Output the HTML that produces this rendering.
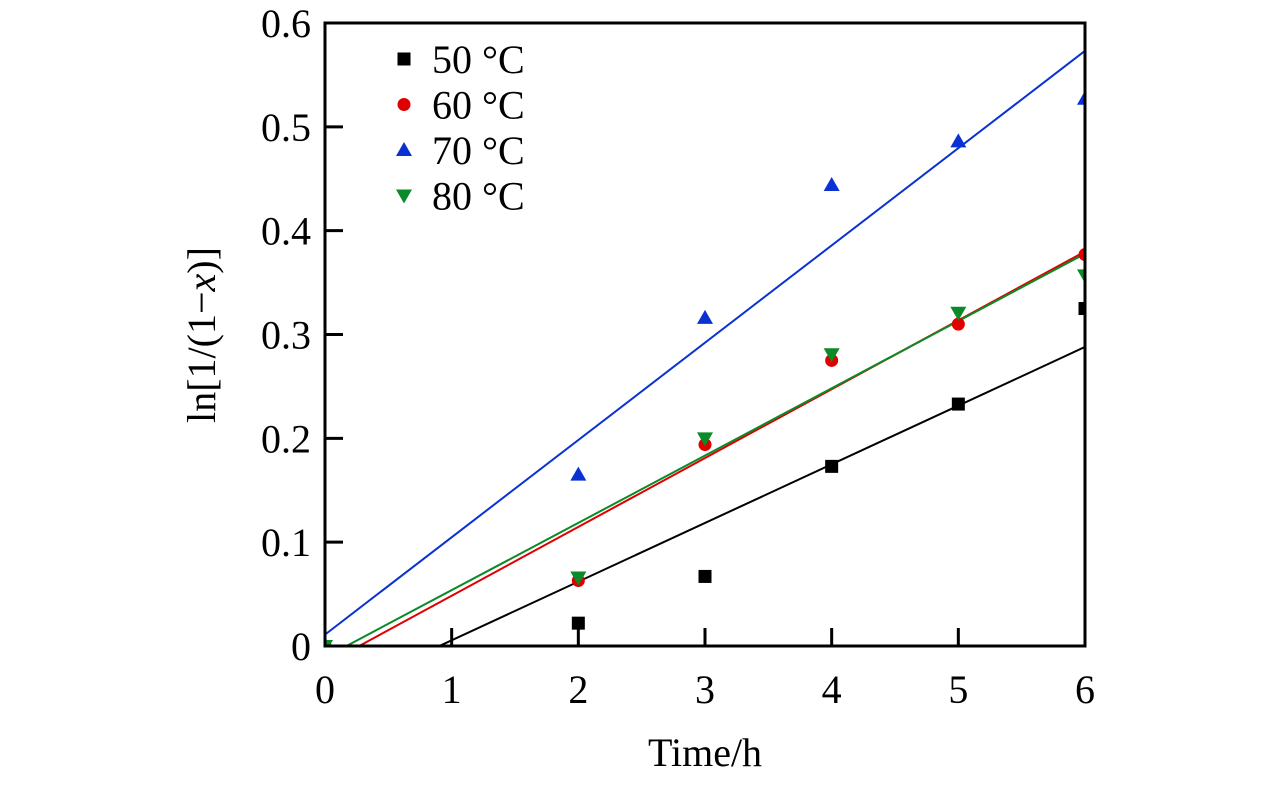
<!DOCTYPE html>
<html><head><meta charset="utf-8"><style>
body{margin:0;background:#fff}
svg{display:block;font-family:"Liberation Serif",serif}
</style></head><body>
<svg id="c" width="1276" height="787"></svg>
<script>
const xTicks=[0,1,2,3,4,5,6];
const yTicks=[0,0.1,0.2,0.3,0.4,0.5,0.6];
const yTickLabels=["0","0.1","0.2","0.3","0.4","0.5","0.6"];
const times=[0,2,3,4,5,6];
const s50=[null,0.022,0.067,0.173,0.233,0.325];
const s60=[0,0.063,0.194,0.275,0.310,0.377];
const s70=[null,0.165,0.316,0.444,0.486,0.527];
const s80=[0,0.066,0.200,0.281,0.321,0.357];
const fitSlope=[0.0565,0.0663,0.0937,0.0648];
const fitIntercept=[-0.051,-0.0179,0.011,-0.011];
const names=["50 °C","60 °C","70 °C","80 °C"];
const colors=["#000","#e00000","#0a32d2","#0a8a28"];
const shapes=["square","circle","up","down"];
const series=[s50,s60,s70,s80];

const L=325,R=1085,T=23,B=646;
const X=v=>L+(v-0)/6*(R-L);
const Y=v=>B-(v-0)/0.6*(B-T);
const svg=document.getElementById('c');
const NS="http://www.w3.org/2000/svg";
function mk(t,a,p){const e=document.createElementNS(NS,t);for(const k in a)e.setAttribute(k,a[k]);(p||svg).appendChild(e);return e;}
const defs=mk('defs',{});
const cp=mk('clipPath',{id:'clip'},defs);
mk('rect',{x:L,y:T,width:R-L,height:B-T},cp);
const g=mk('g',{'clip-path':'url(#clip)'});


function marker(shape,cx,cy,col,parent){
  let e;
  if(shape==='square')e=mk('rect',{x:cx-6.5,y:cy-6.5,width:13,height:13,fill:col},parent);
  else if(shape==='circle')e=mk('circle',{cx:cx,cy:cy,r:6.5,fill:col},parent);
  else if(shape==='up')e=mk('polygon',{points:`${cx},${cy-8} ${cx-8},${cy+6} ${cx+8},${cy+6}`,fill:col},parent);
  else e=mk('polygon',{points:`${cx},${cy+8} ${cx-8},${cy-6} ${cx+8},${cy-6}`,fill:col},parent);
  return e;
}
for(let i=0;i<4;i++){
  const l=mk('line',{x1:X(0),y1:Y(fitIntercept[i]),x2:X(6),y2:Y(fitIntercept[i]+fitSlope[i]*6),stroke:colors[i],'stroke-width':2},g);
  
  
}
for(let i=0;i<4;i++){
  series[i].forEach((v,j)=>{
    if(v===null)return;
    const m=marker(shapes[i],X(times[j]),Y(v),colors[i],g);
    
    
  });
}
const fr=mk('rect',{x:L,y:T,width:R-L,height:B-T,fill:'none',stroke:'#000','stroke-width':3});


xTicks.forEach(v=>{
  const t=mk('line',{x1:X(v),y1:B,x2:X(v),y2:B-18,stroke:'#000','stroke-width':3});
  
  
  const tx=mk('text',{x:X(v),y:B+57,'text-anchor':'middle','font-size':40});
  tx.textContent=v;
  
  
});
yTicks.forEach((v,i)=>{
  const t=mk('line',{x1:L,y1:Y(v),x2:L+18,y2:Y(v),stroke:'#000','stroke-width':3});
  
  
  const tx=mk('text',{x:L-14,y:Y(v)+14,'text-anchor':'end','font-size':40});
  tx.textContent=yTickLabels[i];
  
  
});
const xt=mk('text',{x:705,y:766,'text-anchor':'middle','font-size':40});
xt.textContent='Time/h';


const yt=mk('text',{x:0,y:0,'text-anchor':'middle','font-size':40,transform:'translate(215,335) rotate(-90)'});
yt.innerHTML='ln[1/(1−<tspan font-style="italic">x</tspan>)]';


for(let i=0;i<4;i++){
  const ly=59+i*45.5;
  const m=marker(shapes[i],404,ly,colors[i]);
  
  
  const tx=mk('text',{x:432,y:ly+14,'font-size':40});
  tx.textContent=names[i];
  
  
}
</script>
</body></html>
